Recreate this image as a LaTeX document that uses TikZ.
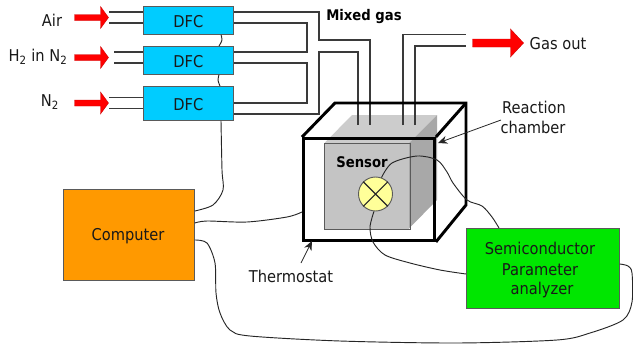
\documentclass[tikz,border=0pt]{standalone}
\usepackage{fontspec}
\setmainfont[FakeStretch=0.9]{DejaVu Sans}
\usetikzlibrary{arrows.meta}
\definecolor{pipe}{HTML}{3A3A3A}
\definecolor{dfcblue}{HTML}{00CCFF}
\definecolor{comporange}{HTML}{FF9900}
\definecolor{spagreen}{HTML}{00E600}
\definecolor{sensfront}{HTML}{C4C4C4}
\definecolor{senstop}{HTML}{CCCCCC}
\definecolor{sensside}{HTML}{A8A8A8}
\definecolor{lampfill}{HTML}{FFFF99}
\definecolor{boxedge}{HTML}{5A5A5A}
\tikzset{
  lbl/.style={font=\fontsize{12.2}{14}\selectfont,inner sep=0pt,text=black!90},
  boldlbl/.style={font=\fontsize{11}{12}\selectfont\bfseries,inner sep=0pt},
  rectbox/.style={draw=boxedge,line width=.6pt,inner sep=0pt,anchor=north west},
  tube/.style={draw=pipe,line width=.85pt},
  wire/.style={draw=black!85,line width=.7pt},
  shell/.style={draw=black,line width=2.2pt,line join=miter},
  pointer/.style={draw=black!85,line width=.6pt,-{Stealth[length=7pt,width=6pt]}},
  gasarrow/.style={fill=red,draw=red!80!black,line width=.3pt},
}
% tip x, tip y, length, head length, half head, half shaft
\newcommand\redarrow[6]{\draw[gasarrow] (#1,#2) -- ++(-#4,-#5) -- ++(0,#5-#6) -- (#1-#3,#2-#6) -- (#1-#3,#2+#6) -- (#1-#4,#2+#6) -- (#1-#4,#2+#5) -- cycle;}
\begin{document}
\begin{tikzpicture}[x=.75pt,y=-.75pt]
\useasboundingbox (0,0) rectangle (633,347);
% sensor block
\fill[senstop] (324.5,143) -- (352,115) -- (437,115) -- (409,143) -- cycle;
\fill[sensside] (409,143) -- (437,115) -- (437,200) -- (409,228.5) -- cycle;
\node[rectbox,draw=none,fill=sensfront,minimum width=63.4pt,minimum height=64.1pt] (front) at (324.5,143) {};
\draw[boxedge,line width=.4pt] (front.north west) -- (front.north east) -- (front.south east) -- (front.south west) -- cycle;
% boxes
\node[rectbox,fill=dfcblue,minimum width=67.5pt,minimum height=21pt] (dfc1) at (143,6) {};
\node[rectbox,fill=dfcblue,minimum width=67.5pt,minimum height=21pt] (dfc2) at (143,46) {};
\node[rectbox,fill=dfcblue,minimum width=67.5pt,minimum height=25.5pt] (dfc3) at (143,86) {};
\node[lbl,yshift=-.75pt] at (dfc1.center) {DFC};
\node[lbl,yshift=-.75pt] at (dfc2.center) {DFC};
\node[lbl,yshift=-.75pt] at (dfc3.center) {DFC};
\node[rectbox,fill=comporange,minimum width=98.25pt,minimum height=68.25pt] (comp) at (63,188.5) {};
\node[lbl] at (128,236.5) {Computer};
\node[rectbox,fill=spagreen,minimum width=114.75pt,minimum height=60pt] (spa) at (466,228) {};
\node[lbl] at (540,248) {Semiconductor};
\node[lbl] at (540,269.5) {Parameter};
\node[lbl] at (542,290.5) {analyzer};
% inlet tubes
\coordinate (a1) at (109,12); \coordinate (a2) at (109,23);
\coordinate (h1) at (114,52); \coordinate (h2) at (114,63);
\coordinate (n1) at (109,97.5); \coordinate (n2) at (109,108.5);
\draw[tube] (a1) -- (dfc1.west |- a1);
\draw[tube] (a2) -- (dfc1.west |- a2);
\draw[tube] (h1) -- (dfc2.west |- h1);
\draw[tube] (h2) -- (dfc2.west |- h2);
\draw[tube] (n1) -- (dfc3.west |- n1);
\draw[tube] (n2) -- (dfc3.west |- n2);
% mixing tubes
\coordinate (in1) at (370,125); \coordinate (in2) at (358,125);
\coordinate (out1) at (403,125); \coordinate (out2) at (415,125);
\coordinate (e1) at (466,34.5); \coordinate (e2) at (466,46);
\draw[tube] (dfc1.east |- a1) -- (319,12) -- (319,40) -- (370,40) -- (in1);
\draw[tube] (dfc1.east |- a2) -- (307,23) -- (307,52) -- (dfc2.east |- h1);
\draw[tube] (dfc2.east |- h2) -- (307,63) -- (307,103) -- (dfc3.east |- 0,103);
\draw[tube] (dfc3.east |- 0,114) -- (319,114) -- (319,52) -- (358,52) -- (in2);
\draw[tube] (out1) -- (403,34.5) -- (e1);
\draw[tube] (out2) -- (415,46) -- (e2);
% thermostat shell
\node[rectbox,draw=black,line width=2.2pt,minimum width=98.25pt,minimum height=76.5pt] (shellfront) at (302,137) {};
\draw[shell] (shellfront.north west) -- (335,103) -- (466,103) -- (466,205) -- (shellfront.south east);
\draw[shell] (shellfront.north east) -- (466,103);
% red arrows
\redarrow{108.5}{17.5}{34}{8}{11}{3}
\redarrow{108.5}{57.5}{34}{8}{11}{3}
\redarrow{108.5}{103}{34}{8}{11}{3}
\redarrow{523.5}{43}{51}{13}{14}{4}
% sensor element
\node[circle,draw=boxedge,line width=.7pt,fill=lampfill,minimum size=25.5pt,inner sep=0pt] (lamp) at (375.5,194) {};
\draw[black!85,line width=.8pt] (lamp.45) -- (lamp.225) (lamp.135) -- (lamp.315);
% wires
\coordinate (w1) at (dfc1.south -| 221,0);
\coordinate (w2) at (dfc2.north -| 219,0);
\coordinate (w3) at (dfc2.south -| 219,0);
\coordinate (w4) at (dfc3.north -| 220,0);
\coordinate (w5) at (dfc3.south -| 221,0);
\coordinate (c1) at (comp.east |- 0,211);
\coordinate (c2) at (comp.east |- 0,223);
\coordinate (c3) at (comp.east |- 0,240);
\coordinate (t1) at (shellfront.west |- 0,212);
\coordinate (s1) at (spa.north -| 499,0);
\coordinate (s2) at (spa.west |- 0,274);
\coordinate (s3) at (spa.east |- 0,264);
\coordinate (l1) at (lamp.70);
\coordinate (l2) at (lamp.265);
\draw[wire] plot[smooth,tension=.6] coordinates {(w1) (222,40) (w2)};
\draw[wire] plot[smooth,tension=.6] coordinates {(w3) (218,80) (w4)};
\draw[wire] plot[smooth,tension=.5] coordinates {(w5) (222,170) (223,190) (213,205) (c1)};
\draw[wire] plot[smooth,tension=.5] coordinates {(c2) (207,221) (247,222) (287,217) (t1)};
\draw[wire] plot[smooth,tension=.5] coordinates {(c3) (207,243) (215,263) (216,293) (220,313) (230,330) (250,336) (340,341) (457,343) (557,340) (590,333) (623,320) (632,302) (632,273) (628,266) (s3)};
\draw[wire] plot[smooth,tension=.5] coordinates {(l1) (392,163) (417,156) (437,160) (447,172) (453,183) (467,200) (482,206) (492,217) (s1)};
\draw[wire] plot[smooth,tension=.5] coordinates {(l2) (370,227) (373,242) (385,255) (410,263) (440,270) (s2)};
% pointers
\coordinate (rc) at (501,120);
\coordinate (th) at (301,263);
\draw[pointer] (rc) -- (438,143);
\draw[pointer] (th) -- (312,241);
% labels
\node[lbl] (airl) at (52,20) {Air};
\node[lbl] (hl) at (38,56.5) {H\textsubscript{2} in N\textsubscript{2}};
\node[lbl] (nl) at (50,102.5) {N\textsubscript{2}};
\node[boldlbl] (mixl) at (364,17) {Mixed gas};
\node[lbl] (gasl) at (558,44) {Gas out};
\node[lbl] (rl1) at (534,107) {Reaction};
\node[lbl] (rl2) at (533,127) {chamber};
\node[boldlbl] (senl) at (362,162.5) {Sensor};
\node[lbl] (thl) at (291,276) {Thermostat};
\end{tikzpicture}
\end{document}
